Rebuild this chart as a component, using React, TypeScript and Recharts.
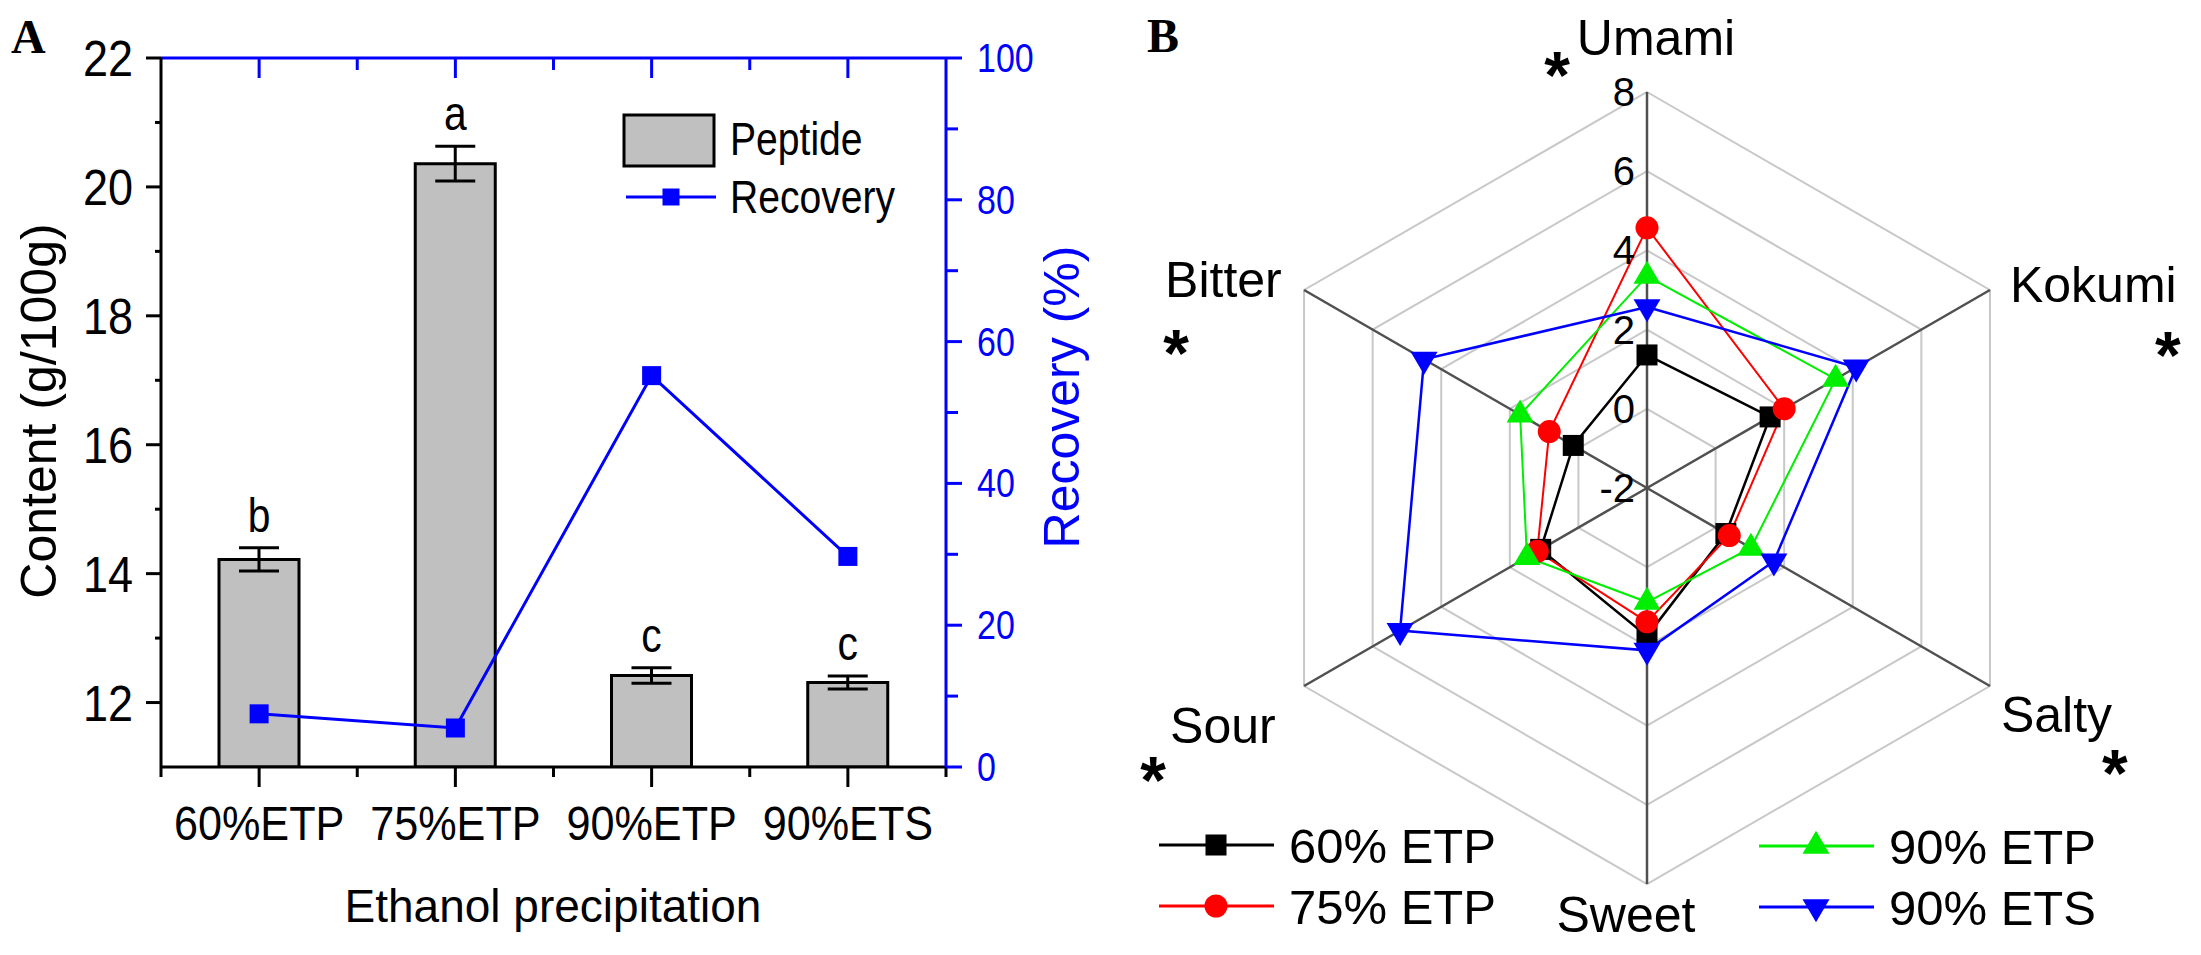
import React from 'react';
import {
  ComposedChart, Bar, Line, XAxis, YAxis, ErrorBar, LabelList,
  RadarChart, Radar, PolarGrid, PolarAngleAxis, PolarRadiusAxis,
} from 'recharts';

const SANS = "'Liberation Sans', Arial, Helvetica, sans-serif";
const SERIF = "'Liberation Serif', 'Times New Roman', serif";
const BLUE = '#0000ff';

// ---------- Panel A data ----------
const categories = ['60%ETP', '75%ETP', '90%ETP', '90%ETS'];
const peptide = [14.22, 20.36, 12.42, 12.31];
const peptideErr = [0.18, 0.27, 0.12, 0.1];
const letters = ['b', 'a', 'c', 'c'];
const recovery = [7.5, 5.5, 55.2, 29.7];
const leftDomain = [11, 22];
const leftTicks = [12, 13, 14, 15, 16, 17, 18, 19, 20, 21, 22];
const rightDomain = [0, 100];
const rightTicks = [0, 10, 20, 30, 40, 50, 60, 70, 80, 90, 100];

// ---------- Panel B data ----------
const tastes = ['Umami', 'Kokumi', 'Salty', 'Sweet', 'Sour', 'Bitter'];
const significant = [true, true, true, false, true, true];
const etp60 = [1.36, 1.59, 0.3, 1.74, 1.1, 0.15];
const etp75 = [4.57, 2.0, 0.4, 1.38, 1.2, 0.85];
const etp90 = [3.35, 3.5, 1.03, 0.88, 1.5, 1.7];
const ets90 = [2.57, 4.1, 1.7, 2.1, 5.2, 4.5];
const radialDomain = [-2, 8];

const barRows = categories.map((c, i) => ({
  cat: c, peptide: peptide[i], err: peptideErr[i], letter: letters[i], recovery: recovery[i],
}));
const radarRows = tastes.map((t, i) => ({
  taste: t, e60: etp60[i], e75: etp75[i], e90: etp90[i], s90: ets90[i],
}));

const radarSeries = [
  { key: 'e60', name: '60% ETP', color: '#000000', shape: 'square', width: 2.5 },
  { key: 'e75', name: '75% ETP', color: '#ff0000', shape: 'circle', width: 2 },
  { key: 'e90', name: '90% ETP', color: '#00ee00', shape: 'up', width: 2 },
  { key: 's90', name: '90% ETS', color: BLUE, shape: 'down', width: 2.5 },
];

// ---------- layout (styles) ----------
const W = 2201, H = 955;
const PA = { width: 1120, left: 161, right: 946, top: 58, bottom: 767 };
const AXW = 60, AXH = 30;
const BAND = (PA.right - PA.left) / categories.length;
const PX_L = (PA.bottom - PA.top) / (leftDomain[1] - leftDomain[0]);
const PB = { x0: 1120, width: W - 1120, cx: 527, cy: 488, R: 396 };

const labelStyle: Record<string, any> = {
  Umami: { dx: 9, dy: -37, anchor: 'middle', sdx: -90, sdy: -32 },
  Kokumi: { dx: 20, dy: 12, anchor: 'start', sdx: 178, sdy: 50 },
  Salty: { dx: 11, dy: 46, anchor: 'start', sdx: 125, sdy: 72 },
  Sweet: { dx: -21, dy: 48, anchor: 'middle', sdx: 0, sdy: 0 },
  Sour: { dx: -134, dy: 57, anchor: 'start', sdx: -151, sdy: 79 },
  Bitter: { dx: -139, dy: 7, anchor: 'start', sdx: -128, sdy: 48 },
};
const legendB = [
  { x: 1159, y: 845 }, { x: 1159, y: 906 }, { x: 1759, y: 846 }, { x: 1759, y: 907 },
];

const T = ({ x, y, children, size, sx = 1, anchor = 'start', fill = '#000', weight = 'normal', rotate = 0, family = SANS }: any) => (
  <text
    transform={`translate(${x} ${y}) rotate(${rotate}) scale(${sx} 1)`}
    x={0} y={0} fontSize={size} textAnchor={anchor} fill={fill}
    fontWeight={weight} fontFamily={family}
  >{children}</text>
);

const Marker = ({ shape, x, y, color }: any) => {
  if (shape === 'square') return <rect x={x - 10.5} y={y - 10.5} width={21} height={21} fill={color} />;
  if (shape === 'circle') return <circle cx={x} cy={y} r={11.5} fill={color} />;
  const w = 27, h = 23;
  if (shape === 'up') return <path d={`M${x},${y - (2 * h) / 3} L${x + w / 2},${y + h / 3} L${x - w / 2},${y + h / 3} Z`} fill={color} />;
  return <path d={`M${x},${y + (2 * h) / 3} L${x + w / 2},${y - h / 3} L${x - w / 2},${y - h / 3} Z`} fill={color} />;
};

// ---------- Panel A ticks ----------
const leftTick = (p: any) => {
  const v = p.payload.value;
  const major = v % 2 === 0;
  return (
    <g key={`lt${v}`}>
      <line x1={p.x - (major ? 15 : 6)} x2={p.x} y1={p.y} y2={p.y} stroke="#000" strokeWidth={3} />
      {major && <T x={p.x - 28} y={p.y + 18} size={50} sx={0.9} anchor="end">{v}</T>}
    </g>
  );
};
const rightTick = (p: any) => {
  const v = p.payload.value;
  const major = v % 20 === 0;
  return (
    <g key={`rt${v}`}>
      <line x1={p.x} x2={p.x + (major ? 16 : 12)} y1={p.y} y2={p.y} stroke={BLUE} strokeWidth={3} />
      {major && <T x={p.x + 31} y={p.y + 14} size={40} sx={0.85} fill={BLUE}>{v}</T>}
    </g>
  );
};
const bottomTick = (p: any) => {
  const last = p.index === categories.length - 1;
  return (
    <g key={`bt${p.index}`}>
      <line x1={p.x} x2={p.x} y1={p.y} y2={p.y + 20} stroke="#000" strokeWidth={3} />
      <line x1={p.x - BAND / 2} x2={p.x - BAND / 2} y1={p.y} y2={p.y + 10} stroke="#000" strokeWidth={3} />
      {last && <line x1={p.x + BAND / 2} x2={p.x + BAND / 2} y1={p.y} y2={p.y + 10} stroke="#000" strokeWidth={3} />}
      <T x={p.x} y={p.y + 73} size={48} sx={0.9} anchor="middle">{p.payload.value}</T>
    </g>
  );
};
const topTick = (p: any) => (
  <g key={`tt${p.index}`}>
    <line x1={p.x} x2={p.x} y1={p.y} y2={p.y + 20} stroke={BLUE} strokeWidth={3} />
    {p.index > 0 && <line x1={p.x - BAND / 2} x2={p.x - BAND / 2} y1={p.y} y2={p.y + 12} stroke={BLUE} strokeWidth={3} />}
  </g>
);
const renderLetter = (p: any) => {
  const i = p.index;
  const x = p.x + p.width / 2;
  const top = p.y - peptideErr[i] * PX_L;
  return <T key={`lt-${i}`} x={x} y={top - 16} size={48} sx={0.85} anchor="middle">{letters[i]}</T>;
};

// ---------- Panel B ticks ----------
const RAD = Math.PI / 180;
const angleTick = (p: any) => {
  const name = p.payload.value;
  const i = tastes.indexOf(name);
  const a = p.payload.coordinate;
  const vx = PB.cx + PB.R * Math.cos(-a * RAD);
  const vy = PB.cy + PB.R * Math.sin(-a * RAD);
  const s = labelStyle[name];
  return (
    <g key={`at${name}`}>
      <T x={vx + s.dx} y={vy + s.dy} size={50} anchor={s.anchor}>{name}</T>
      {significant[i] && (
        <T x={vx + s.sdx} y={vy + s.sdy + 0.58 * 66} size={66} weight="bold" anchor="middle">*</T>
      )}
    </g>
  );
};
const radiusTick = (p: any) => (
  <T key={`rt${p.payload.value}`} x={p.x - 12} y={p.y + 14} size={40} anchor="end">{p.payload.value}</T>
);

export default function App() {
  return (
    <div style={{ position: 'absolute', left: 0, top: 0, width: W, height: H, background: '#fff' }}>
      <div style={{ position: 'absolute', left: 0, top: 0 }}>
        <ComposedChart
          width={PA.width} height={H} data={barRows}
          margin={{ left: PA.left - AXW, right: PA.width - PA.right - AXW, top: PA.top - AXH, bottom: H - PA.bottom - AXH }}
        >
          <XAxis xAxisId="t" orientation="top" dataKey="cat" height={AXH} tickSize={0} tickMargin={0}
            axisLine={{ stroke: BLUE, strokeWidth: 3 }} tickLine={false} tick={topTick} interval={0} />
          <XAxis xAxisId="b" dataKey="cat" height={AXH} tickSize={0} tickMargin={0}
            axisLine={{ stroke: '#000', strokeWidth: 3 }} tickLine={false} tick={bottomTick} interval={0} />
          <YAxis yAxisId="l" domain={leftDomain} ticks={leftTicks} width={AXW} interval={0} tickSize={0} tickMargin={0}
            tickLine={false} axisLine={{ stroke: '#000', strokeWidth: 3 }} tick={leftTick} allowDataOverflow />
          <YAxis yAxisId="r" orientation="right" domain={rightDomain} ticks={rightTicks} width={AXW} interval={0}
            tickSize={0} tickMargin={0} tickLine={false} axisLine={{ stroke: BLUE, strokeWidth: 3 }} tick={rightTick} allowDataOverflow />
          <Bar xAxisId="b" yAxisId="l" dataKey="peptide" barSize={80} fill="#c0c0c0" stroke="#000" strokeWidth={3} isAnimationActive={false}>
            <ErrorBar dataKey="err" width={20} strokeWidth={3} stroke="#000" direction="y" />
            <LabelList dataKey="letter" content={renderLetter} />
          </Bar>
          <Line xAxisId="t" yAxisId="r" dataKey="recovery" stroke={BLUE} strokeWidth={3} isAnimationActive={false}
            dot={(p: any) => <rect key={`rd${p.index}`} x={p.cx - 9.5} y={p.cy - 9.5} width={19} height={19} fill={BLUE} />} />
        </ComposedChart>
      </div>
      <div style={{ position: 'absolute', left: PB.x0, top: 0 }}>
        <RadarChart width={PB.width} height={H} data={radarRows} cx={PB.cx} cy={PB.cy} outerRadius={PB.R}
          startAngle={90} endAngle={-270} margin={{ top: 0, right: 0, bottom: 0, left: 0 }}>
          <PolarGrid gridType="polygon" radialLines={false} stroke="#c8c8c8" strokeWidth={2} />
          <PolarGrid gridType="polygon" polarRadius={[]} stroke="#505050" strokeWidth={2.5} />
          <PolarAngleAxis dataKey="taste" tick={angleTick} tickLine={false} axisLine={false} />
          <PolarRadiusAxis angle={90} domain={radialDomain} tickCount={6} axisLine={false} tickLine={false} tick={radiusTick} />
          {radarSeries.map((s) => (
            <Radar key={s.key} dataKey={s.key} stroke={s.color} strokeWidth={s.width} fill="none" fillOpacity={0}
              isAnimationActive={false}
              dot={(p: any) => <Marker key={`${s.key}${p.index}`} shape={s.shape} x={p.cx} y={p.cy} color={s.color} />} />
          ))}
        </RadarChart>
      </div>
      <svg width={W} height={H} style={{ position: 'absolute', left: 0, top: 0, pointerEvents: 'none' }}>
        <T x={11} y={53} size={48} weight="bold" family={SERIF}>A</T>
        <T x={1147} y={52} size={48} weight="bold" family={SERIF}>B</T>
        <T x={56} y={411} size={50} rotate={-90} anchor="middle">Content (g/100g)</T>
        <T x={1079} y={397} size={50} rotate={-90} anchor="middle" fill={BLUE}>Recovery (%)</T>
        <T x={553} y={922} size={46} anchor="middle">Ethanol precipitation</T>
        {/* Panel A legend */}
        <rect x={624} y={115} width={90} height={51} fill="#c0c0c0" stroke="#000" strokeWidth={3} />
        <T x={730} y={155} size={46} sx={0.85}>Peptide</T>
        <line x1={626} x2={716} y1={197} y2={197} stroke={BLUE} strokeWidth={3} />
        <rect x={662.5} y={188.5} width={17} height={17} fill={BLUE} />
        <T x={730} y={213} size={46} sx={0.85}>Recovery</T>
        {/* Panel B legend */}
        {radarSeries.map((s, i) => {
          const L = legendB[i];
          return (
            <g key={`lg${s.key}`}>
              <line x1={L.x} x2={L.x + 115} y1={L.y} y2={L.y} stroke={s.color} strokeWidth={3} />
              <Marker shape={s.shape} x={L.x + 57} y={L.y} color={s.color} />
              <T x={L.x + 130} y={L.y + 18} size={49}>{s.name}</T>
            </g>
          );
        })}
      </svg>
    </div>
  );
}
